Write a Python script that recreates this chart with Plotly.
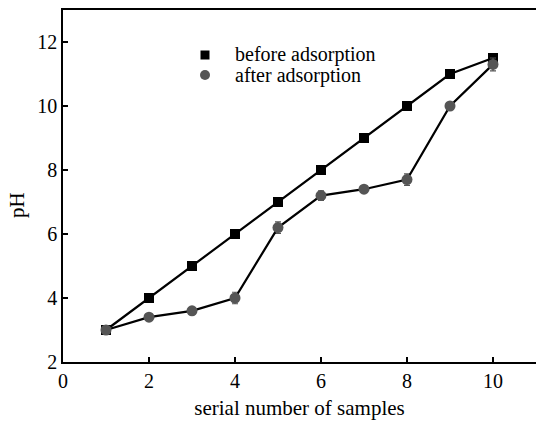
import plotly.graph_objects as go

samples = [1, 2, 3, 4, 5, 6, 7, 8, 9, 10]
ph_before = [3.0, 4.0, 5.0, 6.0, 7.0, 8.0, 9.0, 10.0, 11.0, 11.5]
ph_after = [3.0, 3.4, 3.6, 4.0, 6.2, 7.2, 7.4, 7.7, 10.0, 11.3]
err_after = [0.05, 0.05, 0.05, 0.18, 0.18, 0.15, 0.05, 0.18, 0.05, 0.2]
legend_names = ["before adsorption", "after adsorption"]

font = "Liberation Serif, Times New Roman, serif"
W, H = 536, 422
ML, MR, MT, MB = 63, 0, 10, 60
PW, PH = W - ML - MR, H - MT - MB


def px(xp):
    return (xp - ML) / PW


def py(yp):
    return (H - MB - yp) / PH


fig = go.Figure()
fig.add_trace(go.Scatter(
    x=samples, y=ph_before, mode="lines+markers",
    line=dict(color="black", width=2.2),
    marker=dict(symbol="square", size=10, color="black"),
    showlegend=False))
fig.add_trace(go.Scatter(
    x=samples, y=ph_after, mode="lines+markers",
    line=dict(color="black", width=2.2),
    marker=dict(symbol="circle", size=11, color="#555555"),
    error_y=dict(type="data", array=err_after, color="#555555", thickness=1.2, width=3),
    showlegend=False))

# manual legend (markers only, tight rows)
leg_rows = [55, 75]
# square marker
fig.add_shape(type="rect", xref="paper", yref="paper", xsizemode="pixel", ysizemode="pixel",
              xanchor=px(205), yanchor=py(leg_rows[0]), x0=-4.5, x1=4.5, y0=-4.5, y1=4.5,
              fillcolor="black", line=dict(width=0))
fig.add_shape(type="circle", xref="paper", yref="paper", xsizemode="pixel", ysizemode="pixel",
              xanchor=px(205), yanchor=py(leg_rows[1]), x0=-5, x1=5, y0=-5, y1=5,
              fillcolor="#555555", line=dict(width=0))
for name, yr in zip(legend_names, leg_rows):
    fig.add_annotation(text=name, xref="paper", yref="paper", x=px(233), y=py(yr),
                       xanchor="left", yanchor="middle", showarrow=False,
                       font=dict(family=font, size=20, color="black"))

fig.add_annotation(text="pH", xref="paper", yref="paper", x=px(17), y=py(205),
                   xanchor="center", yanchor="middle", showarrow=False, textangle=-90,
                   font=dict(family=font, size=21, color="black"))

fig.update_layout(
    width=W, height=H,
    margin=dict(l=ML, r=MR, t=MT, b=MB),
    plot_bgcolor="white", paper_bgcolor="white",
    font=dict(family=font, size=20, color="black"),
    showlegend=False,
    xaxis=dict(range=[0, 11], tickvals=[0, 2, 4, 6, 8, 10], ticks="inside",
               ticklen=5, tickwidth=1.5, tickcolor="black",
               showline=True, linecolor="black", linewidth=1.5, mirror=True,
               showgrid=False, zeroline=False,
               tickfont=dict(family=font, size=20),
               title=dict(text="serial number of samples", font=dict(family=font, size=21), standoff=10)),
    yaxis=dict(range=[2, 13], tickvals=[2, 4, 6, 8, 10, 12], ticks="inside",
               ticklen=5, tickwidth=1.5, tickcolor="black",
               showline=True, linecolor="black", linewidth=1.5, mirror=False,
               showgrid=False, zeroline=False,
               tickfont=dict(family=font, size=20)),
)

fig.write_html("out.html")
